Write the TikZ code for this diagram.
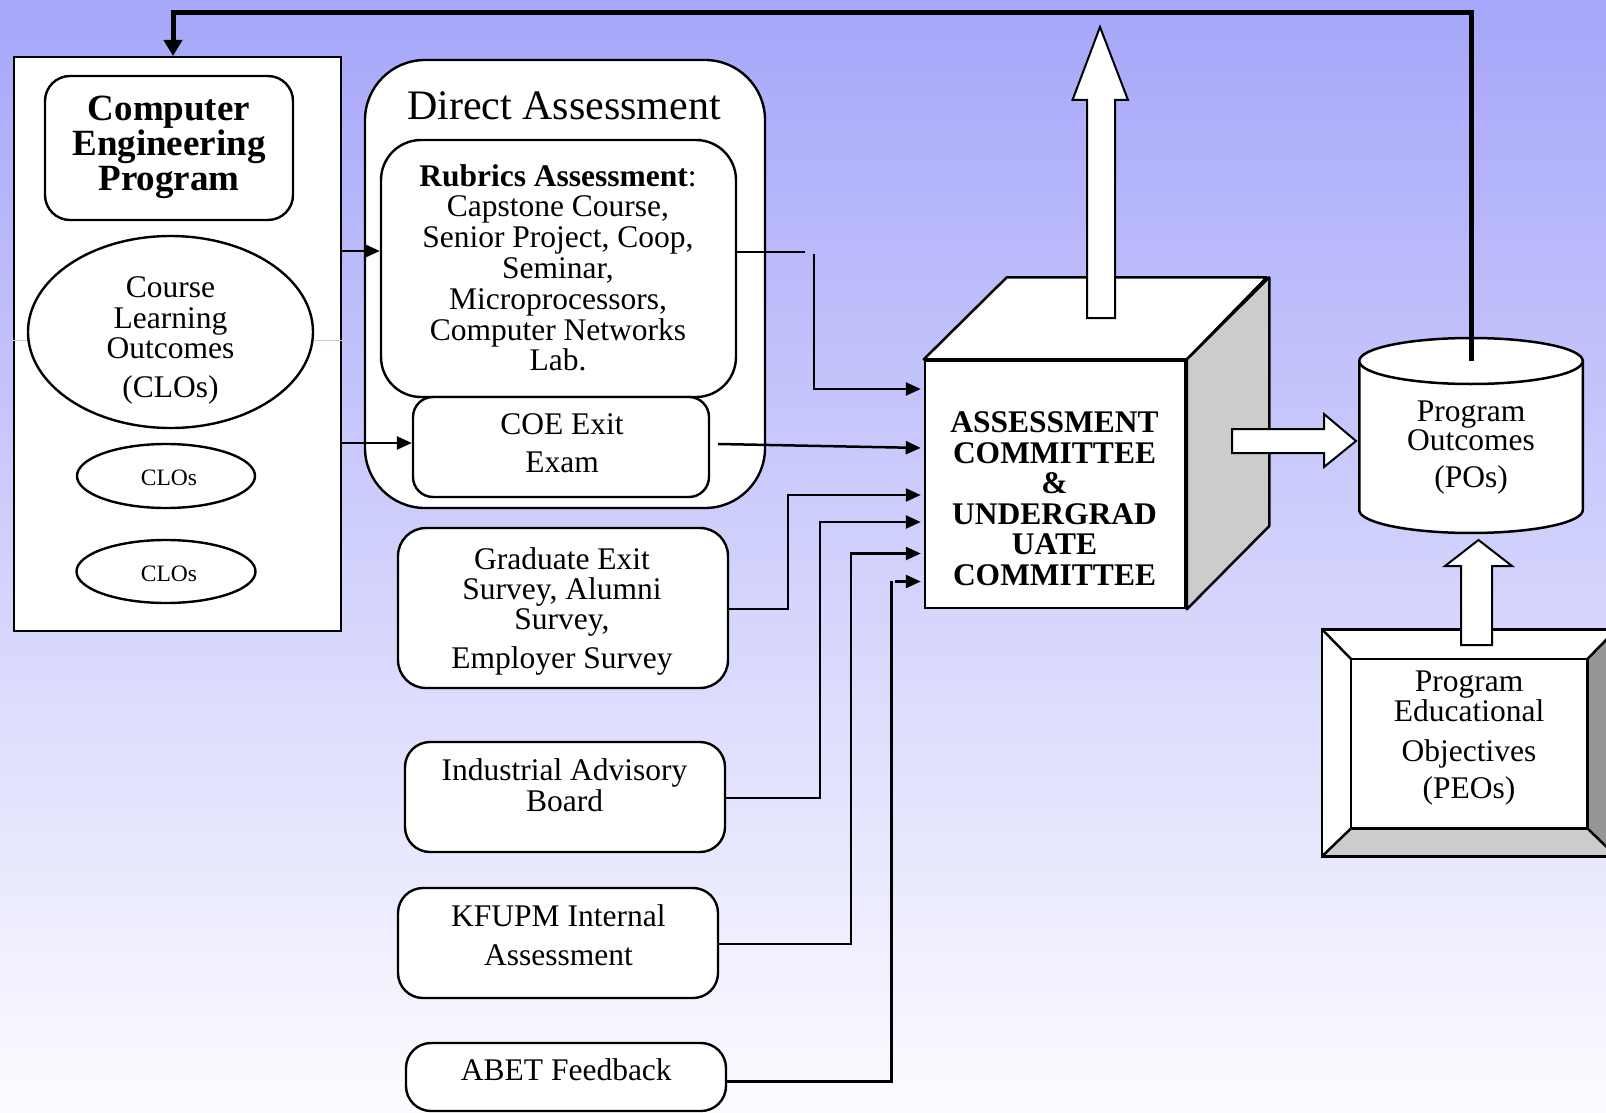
\documentclass[tikz,border=0pt]{standalone}
\usepackage{fontspec}
\setmainfont{Liberation Serif}
\usetikzlibrary{arrows.meta,shapes.geometric,calc}

\definecolor{bgtop}{RGB}{166,166,250}
\definecolor{bgbot}{RGB}{252,252,255}
\definecolor{cubeside}{RGB}{204,204,204}
\definecolor{bevelbottom}{RGB}{204,204,204}
\definecolor{bevelright}{RGB}{150,150,150}
\definecolor{guideline}{RGB}{200,200,248}

\newcommand{\fsz}[2]{\fontsize{#1}{#2}\selectfont}

% multi-line labels are placed by the baseline of their last line
\tikzset{
  boxframe/.style={draw, fill=white, line width=2.4pt, inner sep=0pt},
  rbox/.style={boxframe, rounded corners=#1},
  ovalbox/.style={boxframe, ellipse},
  lbl/.style={inner sep=0pt, align=center, anchor=base},
  conn/.style={line width=2.5pt, -{Triangle[length=15pt,width=13pt]}},
  plainconn/.style={line width=2.5pt},
  bigarrow/.style={draw, fill=white, line width=2pt, line join=miter},
}

\begin{document}
\begin{tikzpicture}[x=1pt, y=-1pt]
\useasboundingbox (0,0) rectangle (1606,1113);
\clip (0,0) rectangle (1606,1113);
\shade[top color=bgtop, bottom color=bgbot] (0,0) rectangle (1606,1113);

% ---- program column ----
\node[boxframe, line width=2pt, minimum width=327, minimum height=573.5, anchor=north west] (lbox) at (13,56) {};
\draw[guideline, line width=1pt] (lbox.west |- 0,340) -- (lbox.east |- 0,340);
\node[rbox=25pt, minimum width=248, minimum height=144] (cep) at (169,148) {};
\node[lbl, font=\bfseries\fsz{37}{35}] (ceptext) at (169,190) {Computer\\Engineering\\Program};
\node[ovalbox, minimum width=285, minimum height=192] (clo) at (170.5,332) {};
\node[lbl, font=\fsz{31.5}{30.6}] (clotext) at (170.5,397.5) {Course\\Learning\\Outcomes\\[8pt](CLOs)};
\node[ovalbox, minimum width=178, minimum height=64] (cloa) at (166,476) {};
\node[lbl, font=\fsz{23.5}{24}] (cloatext) at (169,485) {CLOs};
\node[ovalbox, minimum width=179, minimum height=63] (clob) at (166,571.5) {};
\node[lbl, font=\fsz{23.5}{24}] (clobtext) at (169,581.5) {CLOs};

% ---- direct assessment ----
\node[rbox=60pt, minimum width=400, minimum height=448] (direct) at (565,284) {};
\node[lbl, font=\fsz{42}{42}] (directtext) at (564,120) {Direct Assessment};
\node[rbox=40pt, minimum width=355, minimum height=257] (rub) at (558.5,268.5) {};
\node[lbl, font=\fsz{31.5}{30.8}] (rubtext) at (558,370.8) {\textbf{Rubrics Assessment}:\\Capstone Course,\\Senior Project, Coop,\\Seminar,\\Microprocessors,\\Computer Networks\\Lab.};
\node[rbox=20pt, minimum width=296, minimum height=100] (coe) at (561,447) {};
\node[lbl, font=\fsz{31.5}{30.8}] (coetext) at (562,472.5) {COE Exit\\[7.6pt]Exam};

% ---- indirect assessment sources ----
\node[rbox=28pt, minimum width=330, minimum height=160] (grad) at (563,608) {};
\node[lbl, font=\fsz{31.5}{30}] (gradtext) at (562,668) {Graduate Exit\\Survey, Alumni\\Survey,\\[9pt]Employer Survey};
\node[rbox=25pt, minimum width=320, minimum height=110] (iab) at (565,797) {};
\node[lbl, font=\fsz{31.5}{30.2}] (iabtext) at (564.5,811) {Industrial Advisory\\Board};
\node[rbox=25pt, minimum width=320, minimum height=110] (kfupm) at (558,943) {};
\node[lbl, font=\fsz{31.5}{30}] (kfupmtext) at (558.4,965) {KFUPM Internal\\[8.5pt]Assessment};
\node[rbox=25pt, minimum width=320, minimum height=68] (abet) at (566,1077) {};
\node[lbl, font=\fsz{31.5}{30}] (abettext) at (566.3,1080) {ABET Feedback};

% ---- committee cube ----
\node[boxframe, line width=2.5pt, minimum width=260.6, minimum height=247.4] (cube) at (1055.3,484.3) {};
\draw[fill=white, line width=2.5pt, line join=round] (cube.north west) -- ++(83,-82) -- ++(260,0) -- (cube.north east) -- cycle;
\draw[fill=cubeside, line width=2.5pt, line join=round] (cube.north east) -- ++(82.4,-82) -- ++(0,248.7) -- (cube.south east) -- cycle;
\node[lbl, font=\bfseries\fsz{31.5}{30.6}] (cubetext) at (1054.5,585.5) {ASSESSMENT\\COMMITTEE\\\&\\UNDERGRAD\\UATE\\COMMITTEE};

% ---- connectors into the program and the committee ----
\draw[conn] (lbox.east |- 0,251) -- (rub.west |- 0,251);
\draw[conn] (lbox.east |- 0,443) -- (coe.west |- 0,443);
\draw[plainconn] (rub.east |- 0,252) -- (805,252);
\draw[conn, shorten >=3pt] (814,254) |- (cube.west |- 0,389);
\draw[conn, shorten >=3pt] ($(coe.east)+(8,-3)$) -- (cube.west |- 0,448);
\draw[conn, shorten >=3pt] (grad.east |- 0,609) -| (788,495) -- (cube.west |- 0,495);
\draw[conn, shorten >=3pt] (iab.east |- 0,798) -| (820,522) -- (cube.west |- 0,522);
\draw[conn, shorten >=3pt] (kfupm.east |- 0,944) -| (851,553.5) -- (cube.west |- 0,553.5);
\draw[plainconn] (abet.east |- 0,1081.5) -| (891.5,581);
\draw[conn, shorten >=3pt] (895,581.5) -- (cube.west |- 0,581.5);

% ---- hollow block arrows ----
\draw[bigarrow] (1087,318) -- (1087,100) -- (1072.5,100) -- (1100,27) -- (1128,100) -- (1115,100) -- (1115,318) -- cycle;
\draw[bigarrow] (1232,429) -- (1324,429) -- (1324,414) -- (1356,441) -- (1324,467) -- (1324,453) -- (1232,453) -- cycle;

% ---- program outcomes cylinder ----
\coordinate (cyltop) at (1471,361);
\draw[fill=white, line width=2.5pt] (1359.25,361) -- (1359.25,510) -- plot[domain=180:360, samples=72] ({1471+111.75*cos(\x)}, {510-23*sin(\x)}) -- (1582.75,361);
\draw[fill=white, line width=2.5pt] (cyltop) ellipse[x radius=111.75pt, y radius=23pt];
\node[lbl, font=\fsz{31.5}{29}] (potext) at (1471,487.5) {Program\\Outcomes\\[8pt](POs)};

% ---- bevelled PEO frame ----
\node[fill=white, inner sep=0pt, minimum width=294, minimum height=226.7, anchor=north west] (peoframe) at (1322,629.3) {};
\node[inner sep=0pt, minimum width=236, minimum height=169, anchor=north west] (peoin) at (1351,659) {};
\fill[bevelbottom] (peoframe.south west) -- (peoin.south west) -- (peoin.south east) -- (peoframe.south east) -- cycle;
\fill[bevelright] (peoframe.north east) -- (peoin.north east) -- (peoin.south east) -- (peoframe.south east) -- cycle;
\draw[line width=2.5pt] (peoframe.north west) rectangle (peoframe.south east);
\draw[line width=2.5pt, fill=white] (peoin.north west) rectangle (peoin.south east);
\draw[line width=2.5pt] (peoframe.north west) -- (peoin.north west)
  (peoframe.north east) -- (peoin.north east)
  (peoframe.south west) -- (peoin.south west)
  (peoframe.south east) -- (peoin.south east);
\node[lbl, font=\fsz{31.5}{30}] (peotext) at (1469,798) {Program\\Educational\\[10pt]Objectives\\[7pt](PEOs)};
\draw[bigarrow] (1461,645) -- (1461,566) -- (1445,566) -- (1478.5,540) -- (1512,566) -- (1492,566) -- (1492,645) -- cycle;

% ---- feedback loop back to the program ----
\draw[line width=5pt, -{Triangle[length=16pt,width=18pt]}] (cyltop) -- (cyltop |- 0,13) -| ($(lbox.north west)+(160,0)$);
\end{tikzpicture}
\end{document}
